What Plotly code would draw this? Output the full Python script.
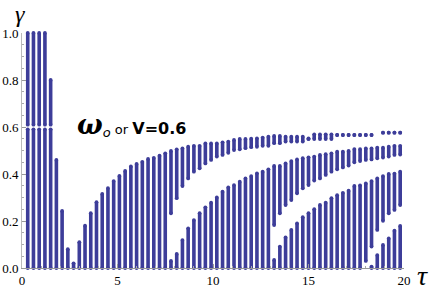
import plotly.graph_objects as go

# ---- data -------------------------------------------------------------
# delay values of the sampled columns
tau = [0.3, 0.6, 0.9, 1.2, 1.5, 1.8, 2.1, 2.4, 2.7, 3.0,
       3.3, 3.6, 3.9, 4.2, 4.5, 4.8, 5.1, 5.4, 5.7, 6.0,
       6.3, 6.6, 6.9, 7.2, 7.5, 7.8, 8.1, 8.4, 8.7, 9.0,
       9.3, 9.6, 9.9, 10.2, 10.5, 10.8, 11.1, 11.4, 11.7, 12.0,
       12.3, 12.6, 12.9, 13.2, 13.5, 13.8, 14.1, 14.4, 14.7, 15.0,
       15.3, 15.6, 15.9, 16.2, 16.5, 16.8, 17.1, 17.4, 17.7, 18.0,
       18.3, 18.6, 18.9, 19.2, 19.5, 19.8]

# band A : first stable region (columns 1..66)
bandA_lo = [0.0] * 25 + [
    0.233, 0.297, 0.349, 0.381, 0.41, 0.424, 0.445, 0.46, 0.474, 0.481,
    0.49, 0.502, 0.505, 0.51, 0.514, 0.516, 0.52, 0.52,
    0.531, 0.531, 0.538, 0.538, 0.538, 0.538, 0.548, 0.549, 0.549, 0.549,
    0.549, 0.566, 0.566, 0.566, 0.566, 0.566, 0.566, 0.566, None,
    0.576, 0.576, 0.576, 0.576]
bandA_hi = [0.59, 0.59, 0.59, 0.59, 0.59, 0.46, 0.243, 0.08, 0.02, 0.11,
            0.18, 0.233, 0.28, 0.315, 0.34, 0.37, 0.392, 0.413, 0.432, 0.443,
            0.452, 0.464, 0.469, 0.478, 0.488,
            0.498, 0.505, 0.509, 0.516, 0.52, 0.52, 0.53, 0.53, 0.53, 0.535,
            0.538, 0.545, 0.549, 0.549, 0.55, 0.552, 0.555, 0.559,
            0.562, 0.562, 0.559, 0.559, 0.559, 0.559, 0.552, 0.569, 0.569, 0.569,
            0.569, 0.566, 0.566, 0.566, 0.566, 0.566, 0.566, 0.566, None,
            0.576, 0.576, 0.576, 0.576]

# part of the first five columns above the missing row at gamma = 0.6
top_tau = tau[:5]
top_lo = [0.61, 0.61, 0.61, 0.61, 0.61]
top_hi = [1.0, 1.0, 1.0, 1.0, 0.80]

# band B : columns 26..66
bandB_tau = tau[25:]
bandB_lo = [0.0] * 18 + [
    0.183, 0.233, 0.268, 0.289, 0.318, 0.339, 0.353, 0.372, 0.381, 0.396,
    0.41, 0.42, 0.428, 0.436, 0.45, 0.455, 0.46, 0.462, 0.467, 0.47,
    0.474, 0.481, 0.483]
bandB_hi = [0.03, 0.06, 0.119, 0.169, 0.204, 0.233, 0.258, 0.278, 0.30, 0.325,
            0.343, 0.353, 0.367, 0.381, 0.391, 0.403, 0.41, 0.42,
            0.434, 0.434, 0.445, 0.455, 0.462, 0.467, 0.471, 0.474, 0.481, 0.484,
            0.488, 0.495, 0.495, 0.498, 0.506, 0.506, 0.509, 0.509, 0.512, 0.512,
            0.516, 0.52, 0.52]

# band C : columns 44..66
bandC_tau = tau[43:]
bandC_lo = [0.0] * 16 + [0.03, 0.091, 0.162, 0.201, 0.233, 0.247, 0.268]
bandC_hi = [0.034, 0.091, 0.13, 0.162, 0.19, 0.216, 0.233, 0.25, 0.268, 0.278,
            0.297, 0.31, 0.32, 0.329, 0.349, 0.352, 0.36, 0.37, 0.381, 0.391,
            0.40, 0.402, 0.41]

# band D : columns 61..66
bandD_tau = tau[60:]
bandD_lo = [0.0] * 6
bandD_hi = [0.006, 0.055, 0.098, 0.126, 0.159, 0.179]

x_ticks = [0, 5, 10, 15, 20]
y_ticks = [0.0, 0.2, 0.4, 0.6, 0.8, 1.0]
y_ticktext = ["0.0", "0.2", "0.4", "0.6", "0.8", "1.0"]

# ---- figure -------------------------------------------------------------
COL = "#3d3d99"


def segments(ts, los, his):
    xs, ys = [], []
    for t, lo, hi in zip(ts, los, his):
        if lo is None or hi is None:
            continue
        xs += [t, t, None]
        ys += [lo, hi, None]
    return xs, ys


fig = go.Figure()
for ts, los, his in [(tau, bandA_lo, bandA_hi),
                     (top_tau, top_lo, top_hi),
                     (bandB_tau, bandB_lo, bandB_hi),
                     (bandC_tau, bandC_lo, bandC_hi),
                     (bandD_tau, bandD_lo, bandD_hi)]:
    xs, ys = segments(ts, los, his)
    fig.add_trace(go.Scatter(
        x=xs, y=ys, mode="lines+markers",
        line=dict(color=COL, width=3.6),
        marker=dict(color=COL, size=3.8, line=dict(width=0)),
        cliponaxis=False, hoverinfo="skip", showlegend=False))

axis_font = dict(family="Liberation Serif", size=13, color="black")

fig.update_layout(
    width=436, height=291,
    margin=dict(l=22, r=32, t=33, b=23, autoexpand=False),
    paper_bgcolor="white", plot_bgcolor="white",
    xaxis=dict(range=[0, 20], tickvals=x_ticks, ticks="inside", ticklen=4,
               tickcolor="#999999", showline=True, linecolor="#999999",
               linewidth=1, showgrid=False, zeroline=False, automargin=False,
               tickfont=axis_font,
               minor=dict(dtick=1, ticks="inside", ticklen=2,
                          tickcolor="#aaaaaa", showgrid=False)),
    yaxis=dict(range=[0, 1], tickvals=y_ticks, ticktext=y_ticktext,
               ticks="inside", ticklen=4, tickcolor="#999999",
               showline=True, linecolor="#bbbbbb", linewidth=1,
               showgrid=False, zeroline=False, automargin=False,
               tickfont=axis_font,
               minor=dict(dtick=0.05, ticks="inside", ticklen=2,
                          tickcolor="#aaaaaa", showgrid=False)),
    annotations=[
        dict(text="<i>γ</i>", xref="paper", yref="paper", x=-0.005, y=1.08,
             showarrow=False, xanchor="center", yanchor="middle",
             font=dict(family="Liberation Serif", size=24, color="black")),
        dict(text="<i>τ</i>", xref="paper", yref="paper", x=1.048, y=-0.03,
             showarrow=False, xanchor="center", yanchor="middle",
             font=dict(family="Liberation Serif", size=28, color="black")),
        dict(text=("<span style='font-family:DejaVu Serif;font-size:27px'>"
                   "<b><i>ω</i></b></span>"
                   "<sub><span style='font-size:13px'><i>o</i></span></sub>"
                   "<span style='font-size:13px'> or </span><b>V=0.6</b>"),
             xref="paper", yref="paper", x=(75 - 22) / 382, y=(268 - 124) / 235,
             showarrow=False, xanchor="left", yanchor="middle",
             font=dict(family="DejaVu Sans", size=16, color="black")),
    ],
)

# remove the default page margin so the figure sits at the window's corner
fig.write_html("out.html",
               config={"displayModeBar": False},
               post_script="document.body.style.margin='0';"
                           "document.body.style.padding='0';")
